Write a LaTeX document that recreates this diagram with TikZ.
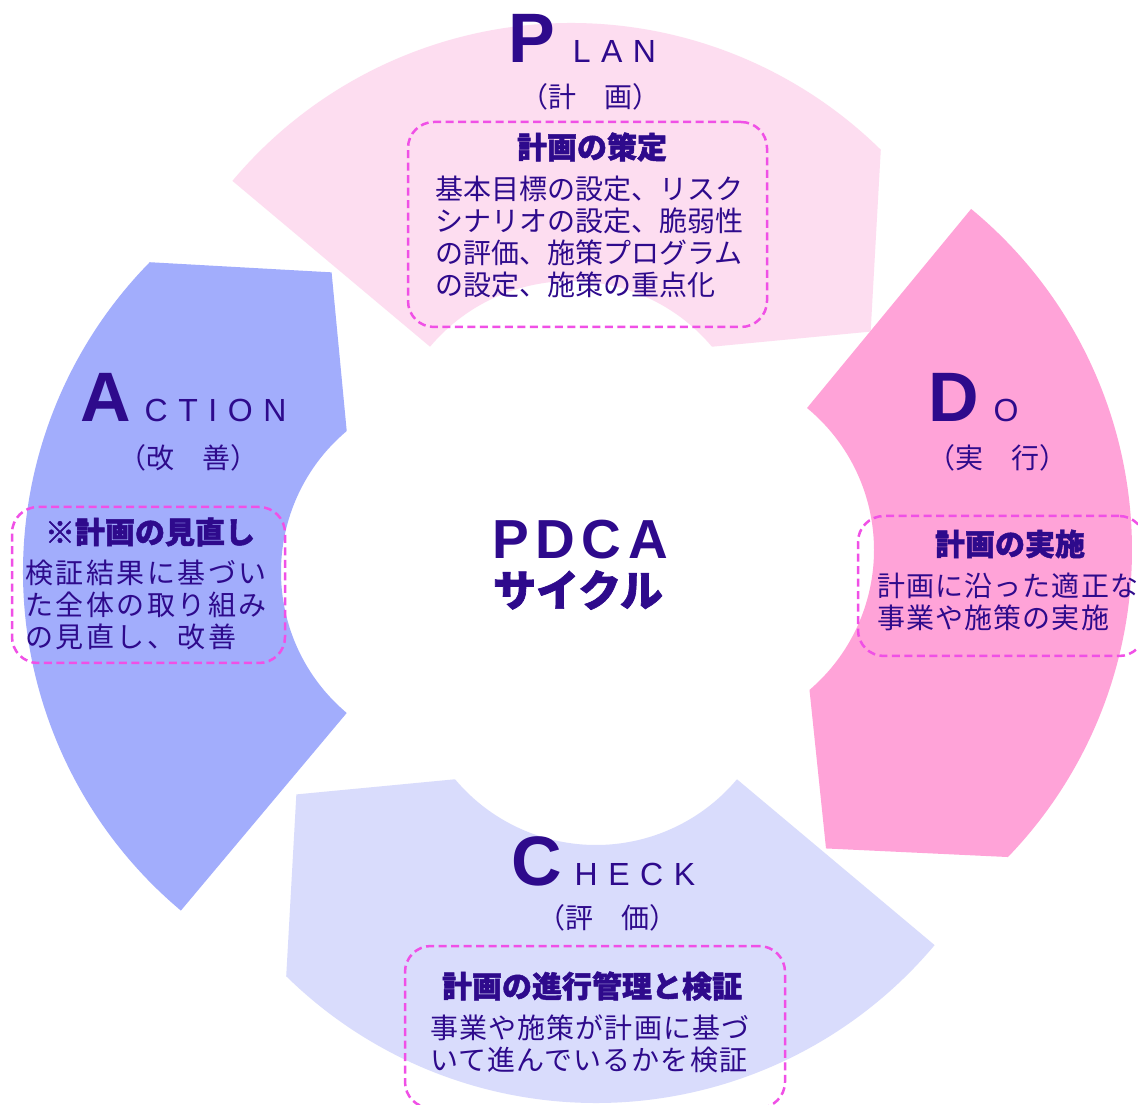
\documentclass[tikz,border=0pt]{standalone}
\usepackage{fontspec}
\usetikzlibrary{positioning}
\setmainfont{Noto Sans CJK JP}
\newfontfamily\jpheavy[BoldFeatures={FakeBold=1.6}]{Noto Sans CJK JP}
\newfontfamily\jpwide[LetterSpace=4]{Noto Sans CJK JP}
\newfontfamily\jpwider[LetterSpace=9]{Noto Sans CJK JP}
\newfontfamily\latin{Liberation Sans}
\newfontfamily\latinwide[LetterSpace=33]{Liberation Sans}
\newfontfamily\latinmid[LetterSpace=12]{Liberation Sans}

\definecolor{plancol}{RGB}{253,221,240}
\definecolor{docol}{RGB}{255,163,216}
\definecolor{checkcol}{RGB}{217,220,252}
\definecolor{actcol}{RGB}{162,173,252}
\definecolor{ink}{RGB}{46,10,140}
\definecolor{dashcol}{RGB}{240,80,230}

\begin{document}
\begin{tikzpicture}[x=1pt,y=1pt,
 cap letter/.style={font=\latin\bfseries\fontsize{70}{70}\selectfont, text=ink, inner sep=0pt, anchor=base},
 rest letters/.style={font=\latinwide\fontsize{32}{32}\selectfont, text=ink, inner sep=0pt, anchor=base west},
 sub title/.style={font=\fontsize{28}{28}\selectfont, text=ink, inner sep=0pt},
 box title/.style={font=\jpheavy\bfseries\fontsize{30}{30}\selectfont, text=ink, inner sep=0pt},
 box body/.style={font=\fontsize{28}{32}\selectfont, text=ink, inner sep=0pt, anchor=west, align=left},
 dash box/.style={draw=dashcol, line width=2.5pt, dash pattern=on 8pt off 4.5pt, rounded corners=26pt}]
  \useasboundingbox (0,0) rectangle (1138,1104);
  \clip (0,0) rectangle (1138,1104);
  \fill[white] (0,0) rectangle (1138,1104);

  \foreach \cx/\cy/\s/\col in {571/639/140/plancol, 690/554/50.5/docol, 596/443/-40/checkcol, 465/532/-130/actcol} {
   \pgfmathsetmacro\e{\s-100}
   \pgfmathsetmacro\eo{\s-94.5}
   \pgfmathsetmacro\t{\s-116}
   \fill[\col] (\cx,\cy) ++(\s:442) arc[start angle=\s, end angle=\eo, radius=442]
     -- ([shift={(\t:328)}]\cx,\cy) -- ([shift={(\e:184)}]\cx,\cy)
     arc[start angle=\e, end angle=\s, radius=184] -- cycle;}

  \node[cap letter] (pBig) at (532,1041) {P};
  \node[rest letters] (pRest) at ([xshift=17pt]pBig.base east) {LAN};
  \node[sub title] (pSub) at (590,1007) {（計　画）};
  \node[dash box, minimum width=359pt, minimum height=205pt] (pBox) at (587.5,879.5) {};
  \node[box title] (pTitle) at (592,957) {計画の策定};
  \node[box body] (pBody) at (435,867) {基本目標の設定、リスク\\シナリオの設定、脆弱性\\の評価、施策プログラム\\の設定、施策の重点化};

  \node[cap letter] (dBig) at (954,682) {D};
  \node[rest letters] (dRest) at ([xshift=14pt]dBig.base east) {O};
  \node[sub title] (dSub) at (997,646) {（実　行）};
  \node[dash box, minimum width=287pt, minimum height=140pt] (dBox) at (1001.5,518) {};
  \node[box title] (dTitle) at (1010,560) {計画の実施};
  \node[box body, font=\jpwide\fontsize{28}{32}\selectfont] (dBody) at (877,502.5) {計画に沿った適正な\\事業や施策の実施};

  \node[cap letter] (cBig) at (537,219) {C};
  \node[rest letters] (cRest) at ([xshift=12pt]cBig.base east) {HECK};
  \node[sub title] (cSub) at (607,186) {（評　価）};
  \node[dash box, minimum width=380pt, minimum height=162pt] (cBox) at (595,77) {};
  \node[box title] (cTitle) at (592,118) {計画の進行管理と検証};
  \node[box body, font=\jpwide\fontsize{28}{32}\selectfont] (cBody) at (430,60.5) {事業や施策が計画に基づ\\いて進んでいるかを検証};

  \node[cap letter] (aBig) at (106,682) {A};
  \node[rest letters] (aRest) at ([xshift=13pt]aBig.base east) {CTION};
  \node[sub title] (aSub) at (188,646) {（改　善）};
  \node[dash box, minimum width=273pt, minimum height=156pt] (aBox) at (148.5,519) {};
  \node[box title] (aTitle) at (150,572) {※計画の見直し};
  \node[box body, font=\jpwider\fontsize{28}{32}\selectfont] (aBody) at (25,499) {検証結果に基づい\\た全体の取り組み\\の見直し、改善};

  \node[font=\latinmid\bfseries\fontsize{55}{55}\selectfont, text=ink, inner sep=0pt] (cycA) at (580,564) {PDCA};
  \node[font=\jpheavy\bfseries\fontsize{43}{43}\selectfont, text=ink, inner sep=0pt] (cycB) at (578,514) {サイクル};
\end{tikzpicture}
\end{document}
